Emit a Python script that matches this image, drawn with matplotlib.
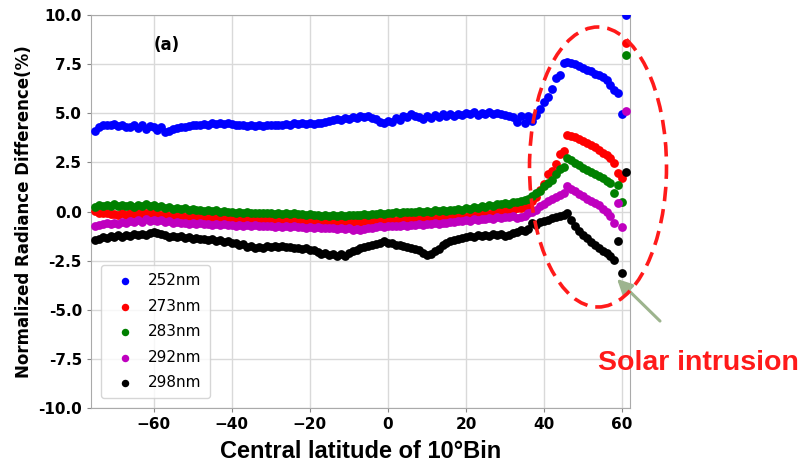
import numpy as np
import matplotlib
matplotlib.use("Agg")
import matplotlib.pyplot as plt
from matplotlib.patches import Ellipse

lat = list(range(-75, 62))

b252 = [4.10, 4.28, 4.40, 4.42, 4.38, 4.45, 4.36, 4.42, 4.32, 4.28,
        4.40, 4.26, 4.38, 4.20, 4.35, 4.30, 4.14, 4.30, 4.06, 4.12,
        4.20, 4.26, 4.30, 4.28, 4.36, 4.38, 4.42, 4.40, 4.46, 4.42,
        4.48, 4.44, 4.50, 4.44, 4.48, 4.45, 4.42, 4.40, 4.38, 4.35,
        4.38, 4.34, 4.40, 4.36, 4.42, 4.38, 4.40, 4.42, 4.38, 4.45,
        4.40, 4.48, 4.44, 4.50, 4.45, 4.50, 4.47, 4.52, 4.50, 4.56,
        4.60, 4.66, 4.72, 4.64, 4.76, 4.70, 4.80, 4.76, 4.88, 4.82,
        4.86, 4.74, 4.70, 4.58, 4.50, 4.62, 4.55, 4.75, 4.66, 4.86,
        4.80, 4.96, 4.88, 4.80, 4.70, 4.86, 4.76, 4.90, 4.82, 4.94,
        4.85, 4.96, 4.88, 4.98, 4.90, 5.02, 4.94, 5.05, 4.90, 5.02,
        4.95, 5.05, 4.96, 5.00, 4.94, 4.90, 4.84, 4.80, 4.55, 4.86,
        4.50, 4.84, 4.62, 4.90, 5.24, 5.58, 5.84, 6.22, 6.80, 6.95,
        7.58, 7.62, 7.56, 7.50, 7.42, 7.32, 7.22, 7.14, 7.02, 6.96,
        6.86, 6.70, 6.45, 6.20, 6.02, 4.96, 10.0]

r273 = [0.03, -0.05, -0.10, -0.08, -0.15, -0.12, -0.18, -0.10, -0.16, -0.08,
        -0.14, -0.06, -0.12, -0.05, -0.10, -0.08, -0.14, -0.18, -0.12, -0.22,
        -0.18, -0.25, -0.20, -0.28, -0.22, -0.26, -0.30, -0.25, -0.32, -0.28,
        -0.35, -0.30, -0.37, -0.33, -0.38, -0.34, -0.36, -0.40, -0.36, -0.42,
        -0.38, -0.44, -0.40, -0.42, -0.38, -0.44, -0.40, -0.46, -0.42, -0.45,
        -0.42, -0.48, -0.44, -0.50, -0.46, -0.48, -0.52, -0.48, -0.55, -0.50,
        -0.54, -0.50, -0.56, -0.52, -0.55, -0.50, -0.54, -0.48, -0.52, -0.50,
        -0.48, -0.52, -0.46, -0.50, -0.44, -0.48, -0.42, -0.46, -0.40, -0.44,
        -0.40, -0.38, -0.42, -0.36, -0.40, -0.34, -0.38, -0.32, -0.36, -0.30,
        -0.28, -0.32, -0.25, -0.28, -0.22, -0.26, -0.20, -0.18, -0.22, -0.15,
        -0.10, -0.14, -0.06, -0.02, 0.05, 0.08, 0.06, 0.10, 0.16, 0.20,
        0.24, 0.30, 0.55, 0.75, 1.10, 1.40, 1.90, 2.05, 2.40, 2.95,
        3.10, 3.90, 3.85, 3.80, 3.70, 3.58, 3.48, 3.36, 3.28, 3.14,
        3.00, 2.86, 2.72, 2.45, 1.95, 1.72, 8.58]

g283 = [0.25, 0.32, 0.28, 0.35, 0.30, 0.36, 0.28, 0.34, 0.26, 0.32,
        0.25, 0.34, 0.28, 0.36, 0.26, 0.32, 0.22, 0.30, 0.18, 0.24,
        0.15, 0.20, 0.12, 0.16, 0.08, 0.14, 0.06, 0.10, 0.04, 0.08,
        0.02, 0.06, -0.02, 0.02, -0.04, 0.00, -0.05, -0.02, -0.08, -0.04,
        -0.08, -0.05, -0.10, -0.06, -0.10, -0.07, -0.12, -0.08, -0.12, -0.09,
        -0.14, -0.10, -0.15, -0.12, -0.18, -0.14, -0.20, -0.16, -0.22, -0.18,
        -0.22, -0.18, -0.24, -0.20, -0.22, -0.18, -0.20, -0.16, -0.18, -0.14,
        -0.16, -0.12, -0.14, -0.08, -0.12, -0.06, -0.10, -0.04, -0.08, -0.02,
        -0.04, 0.00, -0.03, 0.02, -0.02, 0.04, 0.00, 0.06, 0.02, 0.08,
        0.04, 0.10, 0.06, 0.14, 0.10, 0.18, 0.14, 0.22, 0.18, 0.28,
        0.24, 0.34, 0.30, 0.38, 0.36, 0.44, 0.40, 0.50, 0.46, 0.55,
        0.58, 0.62, 0.78, 0.92, 1.05, 1.28, 1.45, 1.62, 1.90, 2.15,
        2.25, 2.72, 2.60, 2.48, 2.36, 2.24, 2.12, 2.02, 1.92, 1.80,
        1.70, 1.55, 1.45, 0.96, 1.35, 0.48, 7.96]

p292 = [-0.76, -0.70, -0.66, -0.60, -0.64, -0.56, -0.62, -0.52, -0.58, -0.48,
        -0.55, -0.45, -0.52, -0.40, -0.48, -0.42, -0.50, -0.44, -0.55, -0.50,
        -0.58, -0.54, -0.60, -0.56, -0.62, -0.58, -0.64, -0.60, -0.66, -0.62,
        -0.68, -0.64, -0.70, -0.66, -0.70, -0.67, -0.72, -0.68, -0.72, -0.70,
        -0.74, -0.70, -0.75, -0.72, -0.76, -0.73, -0.77, -0.74, -0.78, -0.75,
        -0.78, -0.76, -0.80, -0.77, -0.82, -0.78, -0.84, -0.80, -0.85, -0.82,
        -0.86, -0.82, -0.88, -0.85, -0.90, -0.86, -0.92, -0.88, -0.93, -0.88,
        -0.86, -0.82, -0.80, -0.76, -0.78, -0.74, -0.76, -0.72, -0.74, -0.70,
        -0.72, -0.68, -0.70, -0.66, -0.68, -0.62, -0.66, -0.60, -0.62, -0.56,
        -0.58, -0.52, -0.55, -0.48, -0.50, -0.44, -0.46, -0.40, -0.42, -0.36,
        -0.38, -0.32, -0.36, -0.30, -0.34, -0.26, -0.30, -0.24, -0.34, -0.28,
        -0.25, -0.10, 0.00, 0.09, 0.30, 0.38, 0.52, 0.62, 0.72, 0.86,
        0.95, 1.28, 1.15, 1.02, 0.90, 0.78, 0.66, 0.55, 0.44, 0.32,
        0.15, 0.00, -0.25, -0.57, 0.45, -0.77, 5.11]

k298 = [-1.44, -1.38, -1.30, -1.34, -1.26, -1.30, -1.22, -1.28, -1.20, -1.24,
        -1.16, -1.22, -1.12, -1.18, -1.08, -1.02, -1.10, -1.15, -1.22, -1.28,
        -1.24, -1.30, -1.26, -1.34, -1.30, -1.38, -1.34, -1.42, -1.38, -1.46,
        -1.42, -1.50, -1.46, -1.55, -1.52, -1.62, -1.58, -1.70, -1.66, -1.80,
        -1.76, -1.86, -1.80, -1.84, -1.78, -1.82, -1.76, -1.80, -1.74, -1.80,
        -1.82, -1.88, -1.84, -1.90, -1.86, -1.94, -1.98, -2.08, -2.16, -2.10,
        -2.20, -2.14, -2.24, -2.18, -2.28, -2.12, -2.02, -1.94, -1.88, -1.82,
        -1.78, -1.70, -1.64, -1.58, -1.52, -1.58, -1.62, -1.70, -1.68, -1.78,
        -1.80, -1.88, -1.92, -1.98, -2.10, -2.22, -2.16, -2.02, -1.90, -1.72,
        -1.58, -1.50, -1.44, -1.40, -1.34, -1.30, -1.26, -1.30, -1.22, -1.26,
        -1.20, -1.24, -1.16, -1.20, -1.14, -1.24, -1.18, -1.10, -1.04, -0.94,
        -1.00, -0.90, -0.60, -0.68, -0.55, -0.48, -0.42, -0.34, -0.30, -0.24,
        -0.20, -0.08, -0.45, -0.76, -0.98, -1.20, -1.36, -1.56, -1.72, -1.86,
        -2.00, -2.13, -2.28, -2.47, -1.49, -3.11, 2.00]

series = [("252nm", b252, "b"), ("273nm", r273, "r"), ("283nm", g283, "g"),
          ("292nm", p292, "m"), ("298nm", k298, "k")]

fig = plt.figure(figsize=(8.02, 4.69), dpi=100)
ax = fig.add_axes([0.1135, 0.130, 0.672, 0.838])

for name, vals, col in series:
    ax.scatter(lat, vals, s=40, color=col, label=name, zorder=3, linewidths=0)

ax.set_xlim(-76, 62)
ax.set_ylim(-10, 10)
ax.set_xticks([-60, -40, -20, 0, 20, 40, 60])
ax.set_yticks(np.arange(-10, 10.1, 2.5))
ax.set_yticklabels([f"{v:.1f}" for v in np.arange(-10, 10.1, 2.5)])
ax.grid(True, color="#d9d9d9", linewidth=1.0)
for sp in ax.spines.values():
    sp.set_color("#aaaaaa")
ax.tick_params(labelsize=11, color="#888888", length=3)
for lb in ax.get_xticklabels() + ax.get_yticklabels():
    lb.set_fontweight("bold")

ax.set_ylabel("Normalized Radiance Difference(%)", fontsize=12, fontweight="bold", labelpad=4)
ax.set_xlabel("Central latitude of 10°Bin", fontsize=17, fontweight="bold",
              family="Liberation Sans", labelpad=6)
ax.text(-56.5, 8.45, "(a)", fontsize=12, fontweight="bold", ha="center", va="center")

leg = ax.legend(loc="lower left", bbox_to_anchor=(0.005, 0.005), fontsize=11,
                handletextpad=0.5, labelspacing=0.68, borderpad=0.55, markerscale=0.85,
                frameon=True, fancybox=True, edgecolor="#cccccc")
leg.get_frame().set_linewidth(1.0)

ell = Ellipse((598 / 802, 1 - 167 / 469), 137 / 802, 280 / 469, transform=fig.transFigure,
              fill=False, edgecolor="#ff1a1a", linewidth=2.6, linestyle=(0, (4, 2.2)),
              clip_on=False, zorder=5)
fig.add_artist(ell)

ax.annotate("", xy=(615 / 802, 1 - 277 / 469), xycoords="figure fraction",
            xytext=(662 / 802, 1 - 323 / 469), textcoords="figure fraction",
            arrowprops=dict(arrowstyle="-|>,head_length=0.9,head_width=0.45",
                            color="#9db48e", linewidth=2.2), annotation_clip=False)
fig.text(698 / 802, 1 - 363 / 469, "Solar intrusion", color="#ff1a1a", fontsize=20.5,
         fontweight="bold", family="Liberation Sans", ha="center", va="center")

fig.savefig("out.png", dpi=100)
